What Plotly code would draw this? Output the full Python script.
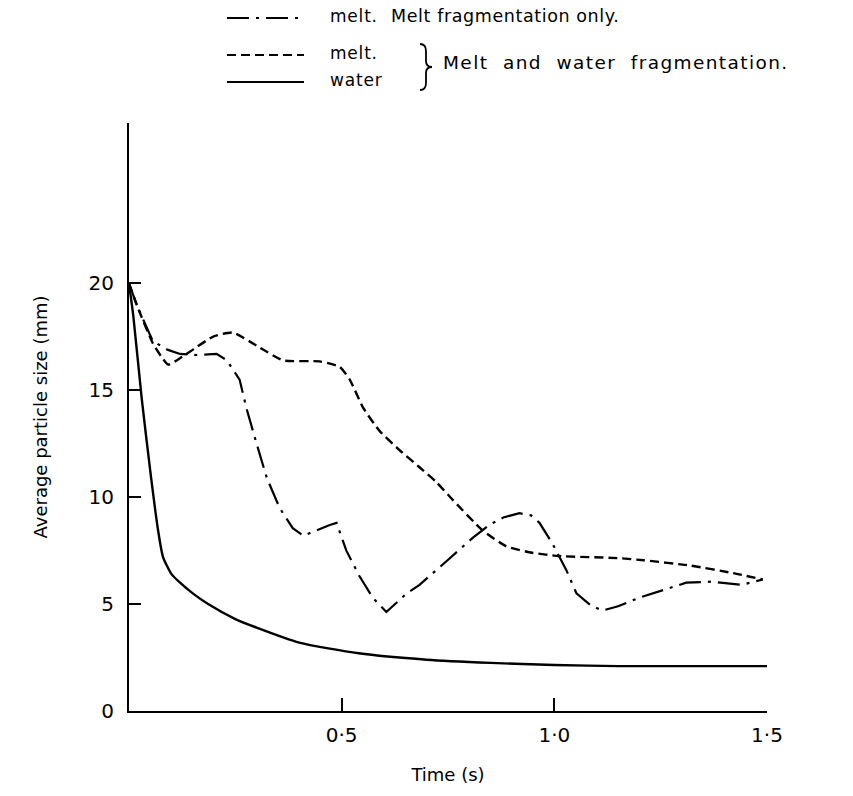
import plotly.graph_objects as go

# ---------------- data ----------------
melt_only_t = [0, 0.02, 0.056, 0.09, 0.12, 0.16, 0.206, 0.23, 0.26, 0.277, 0.30, 0.324,
               0.354, 0.385, 0.41, 0.44, 0.472, 0.488, 0.511, 0.542, 0.573, 0.605, 0.653,
               0.683, 0.73, 0.749, 0.808, 0.847, 0.88, 0.918, 0.945, 0.965, 0.995, 1.028,
               1.052, 1.085, 1.113, 1.15, 1.2, 1.26, 1.31, 1.37, 1.44, 1.49]
melt_only_v = [20, 18.9, 17.3, 16.9, 16.7, 16.65, 16.7, 16.4, 15.5, 14.1, 12.5, 10.9,
               9.5, 8.55, 8.2, 8.45, 8.7, 8.8, 7.5, 6.3, 5.3, 4.63, 5.5,
               5.9, 6.7, 7.05, 8.1, 8.7, 9.05, 9.25, 9.15, 8.8, 7.85, 6.6,
               5.5, 4.95, 4.7, 4.9, 5.3, 5.7, 6.0, 6.05, 5.9, 6.15]

melt_t = [0, 0.02, 0.056, 0.075, 0.092, 0.12, 0.143, 0.197, 0.244, 0.307, 0.362, 0.448,
          0.495, 0.519, 0.55, 0.589, 0.636, 0.683, 0.723, 0.76, 0.831, 0.887, 0.948,
          1.01, 1.15, 1.21, 1.32, 1.42, 1.49]
melt_v = [20, 18.9, 17.2, 16.6, 16.2, 16.5, 16.8, 17.5, 17.7, 17.0, 16.4, 16.35,
          16.1, 15.5, 14.2, 13.1, 12.2, 11.4, 10.7, 9.9, 8.45, 7.7, 7.4,
          7.25, 7.15, 7.05, 6.8, 6.45, 6.15]

water_t = [0, 0.01, 0.03, 0.052, 0.068, 0.08, 0.1, 0.12, 0.15, 0.186, 0.25, 0.3, 0.4,
           0.54, 0.7, 0.85, 1.0, 1.15, 1.5]
water_v = [20, 18.5, 14.6, 10.9, 8.5, 7.2, 6.4, 6.0, 5.5, 5.0, 4.3, 3.9, 3.2,
           2.7, 2.4, 2.25, 2.15, 2.1, 2.1]

x_tickvals = [0.5, 1.0, 1.5]
x_ticktext = ["0·5", "1·0", "1·5"]
y_tickvals = [0, 5, 10, 15, 20]
y_ticktext = ["0", "5", "10", "15", "20"]

legend_labels = ["melt.", "melt.", "water"]
legend_group1 = "Melt fragmentation only."
legend_group2 = "Melt  and  water  fragmentation."

# ---------------- layout geometry ----------------
W, H = 853, 796
L, R, T, B = 129, 86, 123, 85
PW, PH = W - L - R, H - T - B

def px(xp):
    return (xp - L) / PW

def py(yp):
    return (H - B - yp) / PH

FONT = "DejaVu Sans"
DASHDOT = "22px,7px,3px,7px"
DASHED = "9px,5px"

def spaced(txt, ls):
    return f'<span style="letter-spacing:{ls}px">{txt}</span>'

fig = go.Figure()
fig.add_trace(go.Scatter(x=melt_only_t, y=melt_only_v, mode="lines",
                         line=dict(color="black", width=2.2, dash=DASHDOT),
                         showlegend=False))
fig.add_trace(go.Scatter(x=melt_t, y=melt_v, mode="lines",
                         line=dict(color="black", width=2.4, dash=DASHED, shape="spline", smoothing=0.5),
                         showlegend=False))
fig.add_trace(go.Scatter(x=water_t, y=water_v, mode="lines",
                         line=dict(color="black", width=2.4, shape="spline", smoothing=0.6),
                         showlegend=False))

# legend samples
rows_y = [18, 55, 82]
dashes = [DASHDOT, DASHED, "solid"]
for yy, d in zip(rows_y, dashes):
    fig.add_shape(type="line", xref="paper", yref="paper",
                  x0=px(227), x1=px(304), y0=py(yy), y1=py(yy),
                  line=dict(color="black", width=2.2, dash=d))
for yy, lab in zip(rows_y, legend_labels):
    fig.add_annotation(xref="paper", yref="paper", x=px(328), y=py(yy - 2),
                       text=spaced(lab, 0.8), showarrow=False, xanchor="left", yanchor="middle",
                       font=dict(family=FONT, size=17, color="black"))
fig.add_annotation(xref="paper", yref="paper", x=px(389), y=py(16),
                   text=spaced(legend_group1, 0.6),
                   showarrow=False, xanchor="left", yanchor="middle",
                   font=dict(family=FONT, size=17.5, color="black"))
fig.add_annotation(xref="paper", yref="paper", x=px(441), y=py(62),
                   text=spaced(legend_group2, 1.4),
                   showarrow=False, xanchor="left", yanchor="middle",
                   font=dict(family=FONT, size=18.5, color="black"))

# brace
bx, btop, bbot, bmid = 424, 44, 90, 67
path = (f"M {px(bx-4)},{py(btop)} Q {px(bx+2)},{py(btop)} {px(bx+2)},{py(btop+7)} "
        f"L {px(bx+2)},{py(bmid-6)} Q {px(bx+2)},{py(bmid)} {px(bx+8)},{py(bmid)} "
        f"Q {px(bx+2)},{py(bmid)} {px(bx+2)},{py(bmid+6)} "
        f"L {px(bx+2)},{py(bbot-7)} Q {px(bx+2)},{py(bbot)} {px(bx-4)},{py(bbot)}")
fig.add_shape(type="path", xref="paper", yref="paper", path=path,
              line=dict(color="black", width=1.8))

fig.update_layout(
    width=W, height=H,
    margin=dict(l=L, r=R, t=T, b=B, autoexpand=False),
    paper_bgcolor="white", plot_bgcolor="white",
    font=dict(family=FONT, color="black"),
    xaxis=dict(range=[0, 1.5], showline=True, linecolor="black", linewidth=2,
               showgrid=False, zeroline=False, ticks="inside", ticklen=13,
               tickwidth=1.5, tickcolor="black", tickvals=x_tickvals, ticktext=x_ticktext,
               tickfont=dict(family=FONT, size=20), ticklabelstandoff=5,
               title=dict(text="Time (s)", font=dict(family=FONT, size=18), standoff=22)),
    yaxis=dict(range=[0, 27.5], showline=True, linecolor="black", linewidth=2,
               showgrid=False, zeroline=False, ticks="inside", ticklen=12,
               tickwidth=1.5, tickcolor="black", tickvals=y_tickvals, ticktext=y_ticktext,
               tickfont=dict(family=FONT, size=20), ticklabelstandoff=9,
               title=dict(text="Average particle size (mm)", font=dict(family=FONT, size=18),
                          standoff=36)),
)

fig.write_html("out.html")
